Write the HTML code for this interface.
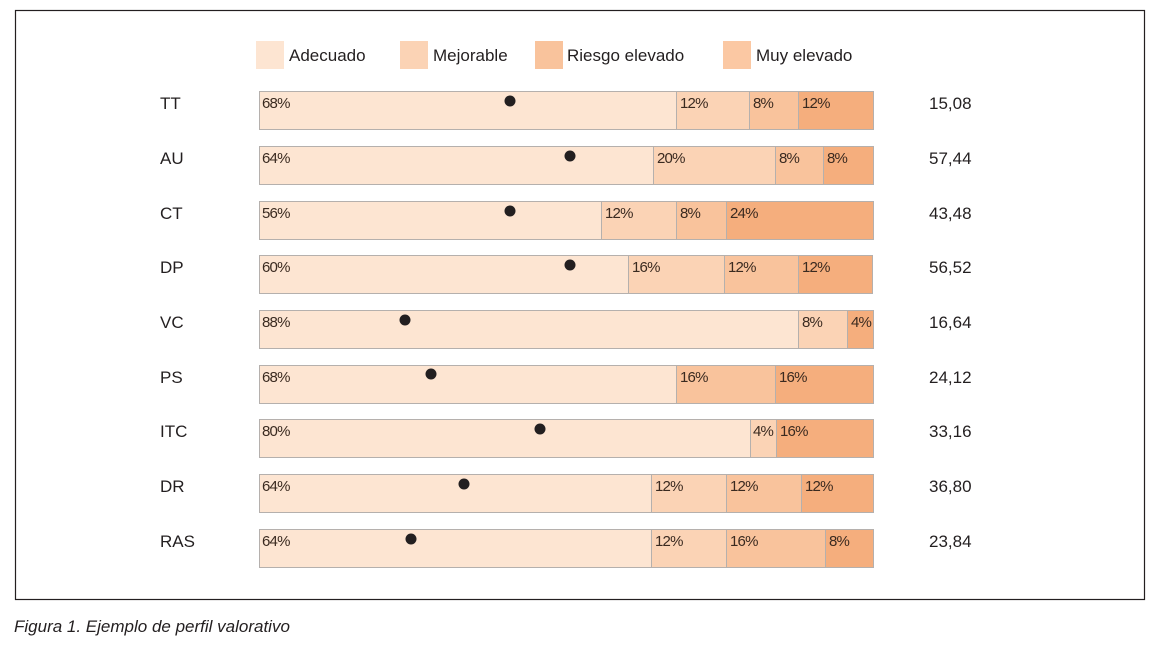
<!DOCTYPE html>
<html><head><meta charset="utf-8"><style>
html,body{margin:0;padding:0;background:#fff;}
svg{display:block;}
.lab{font-family:"Liberation Sans",sans-serif;font-size:17px;fill:#231f20;}
.pct{font-family:"Liberation Sans Narrow","Liberation Sans",sans-serif;font-size:15px;fill:#3a2a20;}
.cap{font-family:"Liberation Sans",sans-serif;font-size:17px;font-style:italic;fill:#231f20;}
</style></head><body>
<svg width="1172" height="645" xmlns="http://www.w3.org/2000/svg">
<rect x="15.5" y="10.5" width="1129" height="589" fill="#fff" stroke="#231f20" stroke-width="1.2"/>
<!-- legend -->
<rect x="256" y="41" width="28" height="28" fill="#fde5d2"/><text class="lab" x="289" y="61">Adecuado</text>
<rect x="400" y="41" width="28" height="28" fill="#fbd3b5"/><text class="lab" x="433" y="61">Mejorable</text>
<rect x="535" y="41" width="28" height="28" fill="#f9c39c"/><text class="lab" x="567" y="61">Riesgo elevado</text>
<rect x="723" y="41" width="28" height="28" fill="#fbc8a3"/><text class="lab" x="756" y="61">Muy elevado</text>
<g stroke="#b5b0ad" stroke-width="1">
<!-- TT -->
<rect x="259.5" y="91.5" width="417" height="38" fill="#fde5d2"/><rect x="676.5" y="91.5" width="73" height="38" fill="#fbd3b5"/><rect x="749.5" y="91.5" width="49" height="38" fill="#f9c39c"/><rect x="798.5" y="91.5" width="75" height="38" fill="#f5ae7d"/>
<!-- AU -->
<rect x="259.5" y="146.5" width="394" height="38" fill="#fde5d2"/><rect x="653.5" y="146.5" width="122" height="38" fill="#fbd3b5"/><rect x="775.5" y="146.5" width="48" height="38" fill="#f9c39c"/><rect x="823.5" y="146.5" width="50" height="38" fill="#f5ae7d"/>
<!-- CT -->
<rect x="259.5" y="201.5" width="342" height="38" fill="#fde5d2"/><rect x="601.5" y="201.5" width="75" height="38" fill="#fbd3b5"/><rect x="676.5" y="201.5" width="50" height="38" fill="#f9c39c"/><rect x="726.5" y="201.5" width="147" height="38" fill="#f5ae7d"/>
<!-- DP -->
<rect x="259.5" y="255.5" width="369" height="38" fill="#fde5d2"/><rect x="628.5" y="255.5" width="96" height="38" fill="#fbd3b5"/><rect x="724.5" y="255.5" width="74" height="38" fill="#f9c39c"/><rect x="798.5" y="255.5" width="74" height="38" fill="#f5ae7d"/>
<!-- VC -->
<rect x="259.5" y="310.5" width="539" height="38" fill="#fde5d2"/><rect x="798.5" y="310.5" width="49" height="38" fill="#fbd3b5"/><rect x="847.5" y="310.5" width="26" height="38" fill="#f5ae7d"/>
<!-- PS -->
<rect x="259.5" y="365.5" width="417" height="38" fill="#fde5d2"/><rect x="676.5" y="365.5" width="99" height="38" fill="#f9c39c"/><rect x="775.5" y="365.5" width="98" height="38" fill="#f5ae7d"/>
<!-- ITC -->
<rect x="259.5" y="419.5" width="491" height="38" fill="#fde5d2"/><rect x="750.5" y="419.5" width="26" height="38" fill="#fbd3b5"/><rect x="776.5" y="419.5" width="97" height="38" fill="#f5ae7d"/>
<!-- DR -->
<rect x="259.5" y="474.5" width="392" height="38" fill="#fde5d2"/><rect x="651.5" y="474.5" width="75" height="38" fill="#fbd3b5"/><rect x="726.5" y="474.5" width="75" height="38" fill="#f9c39c"/><rect x="801.5" y="474.5" width="72" height="38" fill="#f5ae7d"/>
<!-- RAS -->
<rect x="259.5" y="529.5" width="392" height="38" fill="#fde5d2"/><rect x="651.5" y="529.5" width="75" height="38" fill="#fbd3b5"/><rect x="726.5" y="529.5" width="99" height="38" fill="#f9c39c"/><rect x="825.5" y="529.5" width="48" height="38" fill="#f5ae7d"/>
</g>
<g class="pct" letter-spacing="-0.8">
<text x="262" y="108">68%</text><text x="680" y="108">12%</text><text x="753" y="108">8%</text><text x="802" y="108">12%</text>
<text x="262" y="163">64%</text><text x="657" y="163">20%</text><text x="779" y="163">8%</text><text x="827" y="163">8%</text>
<text x="262" y="218">56%</text><text x="605" y="218">12%</text><text x="680" y="218">8%</text><text x="730" y="218">24%</text>
<text x="262" y="272">60%</text><text x="632" y="272">16%</text><text x="728" y="272">12%</text><text x="802" y="272">12%</text>
<text x="262" y="327">88%</text><text x="802" y="327">8%</text><text x="851" y="327">4%</text>
<text x="262" y="382">68%</text><text x="680" y="382">16%</text><text x="779" y="382">16%</text>
<text x="262" y="436">80%</text><text x="753" y="436">4%</text><text x="780" y="436">16%</text>
<text x="262" y="491">64%</text><text x="655" y="491">12%</text><text x="730" y="491">12%</text><text x="805" y="491">12%</text>
<text x="262" y="546">64%</text><text x="655" y="546">12%</text><text x="730" y="546">16%</text><text x="829" y="546">8%</text>
</g>
<g fill="#231f20">
<circle cx="510" cy="101" r="5.5"/><circle cx="570" cy="156" r="5.5"/><circle cx="510" cy="211" r="5.5"/><circle cx="570" cy="265" r="5.5"/><circle cx="405" cy="320" r="5.5"/><circle cx="431" cy="374" r="5.5"/><circle cx="540" cy="429" r="5.5"/><circle cx="464" cy="484" r="5.5"/><circle cx="411" cy="539" r="5.5"/>
</g>
<g class="lab">
<text x="160" y="109">TT</text><text x="160" y="164">AU</text><text x="160" y="219">CT</text><text x="160" y="273">DP</text><text x="160" y="328">VC</text><text x="160" y="383">PS</text><text x="160" y="437">ITC</text><text x="160" y="492">DR</text><text x="160" y="547">RAS</text>
<text x="929" y="109">15,08</text><text x="929" y="164">57,44</text><text x="929" y="219">43,48</text><text x="929" y="273">56,52</text><text x="929" y="328">16,64</text><text x="929" y="383">24,12</text><text x="929" y="437">33,16</text><text x="929" y="492">36,80</text><text x="929" y="547">23,84</text>
</g>
<text class="cap" x="14" y="632">Figura 1. Ejemplo de perfil valorativo</text>
</svg>
</body></html>
